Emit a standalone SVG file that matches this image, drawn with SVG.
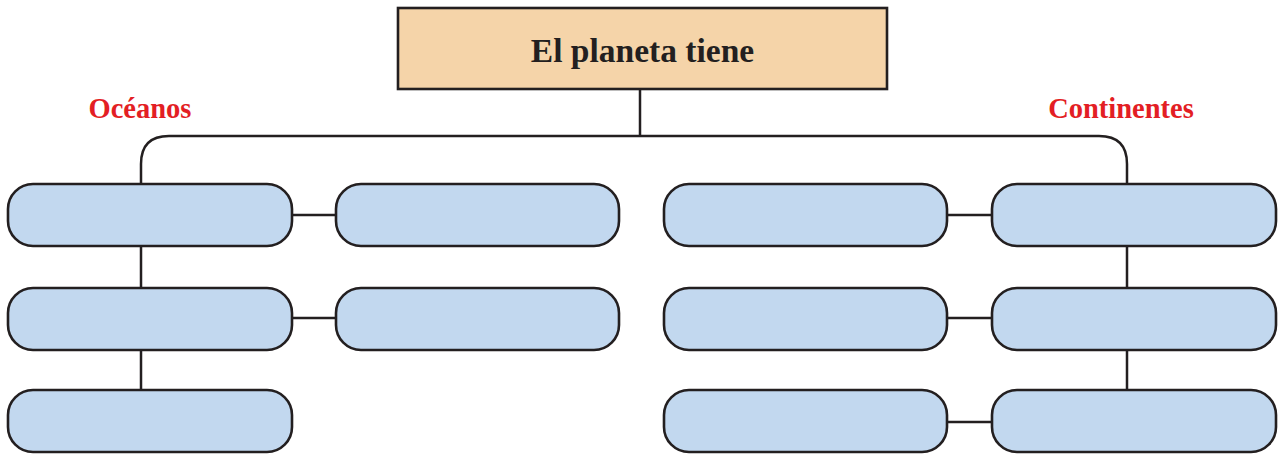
<svg xmlns="http://www.w3.org/2000/svg" width="1282" height="455" viewBox="0 0 1282 455">
<style>
.box{fill:#c2d8ef;stroke:#231f20;stroke-width:2.6}
.top{fill:#f5d4a9;stroke:#231f20;stroke-width:2.6}
.ln{fill:none;stroke:#231f20;stroke-width:2.5}
.lbl{font-family:"Liberation Serif",serif;font-weight:bold;font-size:28.5px;fill:#e31e24;text-anchor:middle}
.title{font-family:"Liberation Serif",serif;font-weight:bold;font-size:33.5px;fill:#231f20;text-anchor:middle}
</style>
<rect width="1282" height="455" fill="#ffffff"/>
<g id="connectors">
<path class="ln" d="M640 89V136"/>
<path class="ln" d="M141 184V164Q141 136 169 136H1099Q1127 136 1127 164V184"/>
<path class="ln" d="M141 246V288M141 350V390"/>
<path class="ln" d="M292 215H336M292 318H336"/>
<path class="ln" d="M1127 246V288M1127 350V390"/>
<path class="ln" d="M947 215H992M947 318H992M947 422H992"/>
</g>
<g id="root"><rect class="top" x="398" y="8" width="489" height="81"/><text class="title" x="642.5" y="62">El planeta tiene</text></g>
<g id="label-oceanos"><text class="lbl" x="140" y="118">Océanos</text></g>
<g id="label-continentes"><text class="lbl" x="1121" y="118">Continentes</text></g>
<g id="o1"><rect class="box" x="8" y="184" width="284" height="62" rx="25"/></g>
<g id="o2"><rect class="box" x="336" y="184" width="283" height="62" rx="25"/></g>
<g id="o3"><rect class="box" x="8" y="288" width="284" height="62" rx="25"/></g>
<g id="o4"><rect class="box" x="336" y="288" width="283" height="62" rx="25"/></g>
<g id="o5"><rect class="box" x="8" y="390" width="284" height="62" rx="25"/></g>
<g id="c1"><rect class="box" x="664" y="184" width="283" height="62" rx="25"/></g>
<g id="c2"><rect class="box" x="992" y="184" width="284" height="62" rx="25"/></g>
<g id="c3"><rect class="box" x="664" y="288" width="283" height="62" rx="25"/></g>
<g id="c4"><rect class="box" x="992" y="288" width="284" height="62" rx="25"/></g>
<g id="c5"><rect class="box" x="664" y="390" width="283" height="62" rx="25"/></g>
<g id="c6"><rect class="box" x="992" y="390" width="284" height="62" rx="25"/></g>
</svg>
